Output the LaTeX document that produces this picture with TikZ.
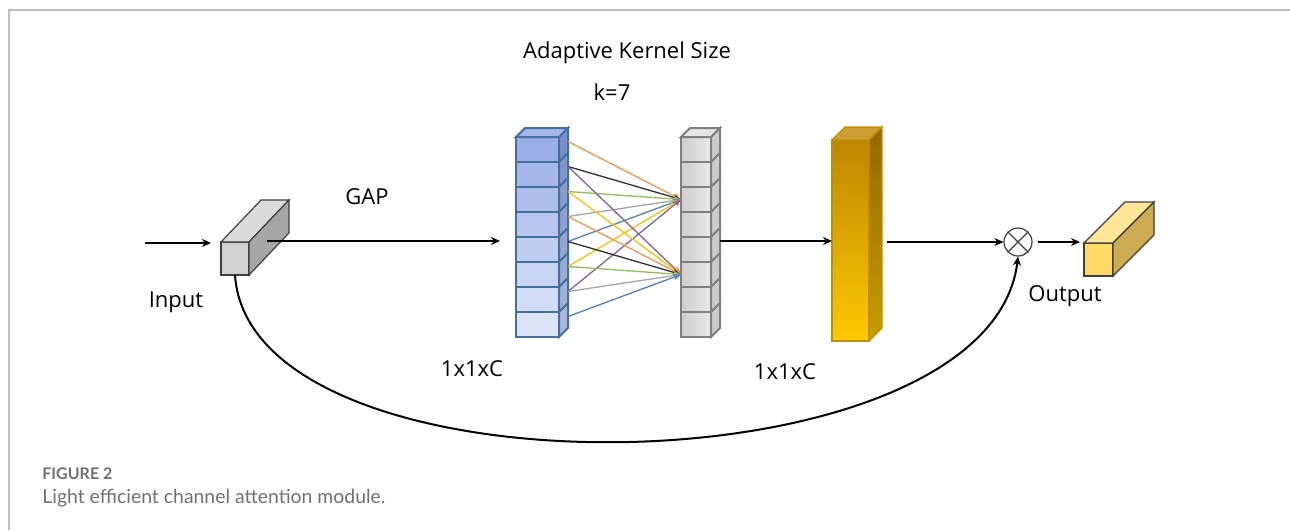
\documentclass[tikz,border=0pt]{standalone}
\usepackage{fontspec}
\setmainfont{Open Sans}
\newfontfamily\capfont{Lato}
\usetikzlibrary{arrows.meta,calc}

\definecolor{bTop}{HTML}{9AAEE8}
\definecolor{bBot}{HTML}{DDE4F8}
\definecolor{bSideTop}{HTML}{7A8FC6}
\definecolor{bSideBot}{HTML}{ABB6DA}
\definecolor{bEdge}{HTML}{41719C}
\definecolor{gEdge}{HTML}{7F7F7F}
\definecolor{cubeEdge}{HTML}{404040}
\definecolor{goldTop}{HTML}{BF8600}
\definecolor{goldBot}{HTML}{FFC800}
\definecolor{goldSideTop}{HTML}{946800}
\definecolor{goldSideBot}{HTML}{C89C00}
\definecolor{goldEdge}{HTML}{C09000}
\definecolor{cOrange}{HTML}{F79646}
\definecolor{cBlack}{HTML}{303030}
\definecolor{cGreen}{HTML}{9BBB59}
\definecolor{cGray}{HTML}{A5A5A5}
\definecolor{cBlue}{HTML}{4F81BD}
\definecolor{cYellow}{HTML}{FFC000}
\definecolor{cPurple}{HTML}{8064A2}
\definecolor{capGray}{HTML}{707070}
\definecolor{frameGray}{HTML}{BEBEBE}

\begin{document}
\begin{tikzpicture}[x=0.5pt,y=-0.5pt,
  lbl/.style={font=\fontsize{11pt}{13pt}\selectfont, inner sep=0pt},
  arr/.style={line width=1pt, -{Stealth[length=4.5pt,width=4pt]}},
  thin arr/.style={line width=0.65pt, -{Stealth[length=4pt,width=3.2pt]}},
  bcell/.style={draw=bEdge, line width=1pt, minimum width=21.5pt, minimum height=12.5pt, inner sep=0pt, outer sep=0pt},
  gcell/.style={draw=gEdge, line width=1pt, minimum width=15pt, minimum height=12.5pt, inner sep=0pt, outer sep=0pt, left color=gray!38, right color=gray!18},
  face/.style={draw=cubeEdge, line width=0.6pt, inner sep=0pt, outer sep=0pt}
]
\useasboundingbox (0,0) rectangle (1290,530);

% frame of the figure panel
\draw[frameGray, line width=0.6pt] (9,530) -- (9,10) -- (1290,10);

% ---------- input feature cube ----------
\node[face, fill=gray!35, minimum width=14pt, minimum height=16.5pt] (inp) at (235,258.5) {};
\draw[face, fill=gray!28] (inp.north west) -- ++(40,-42) -- ++(28,0) -- (inp.north east) -- cycle;
\draw[face, fill=gray!70] (inp.north east) -- ++(40,-42) -- ++(0,33) -- (inp.south east) -- cycle;

% ---------- pooled descriptor column ----------
\foreach \i in {1,...,8}{
  \pgfmathsetmacro\pct{100-(\i-1)*100/7}
  \node[bcell, fill=bTop!\pct!bBot] (b\i) at (537.5,{149.5+25*(\i-1)}) {};
}
\draw[draw=bEdge, line width=1pt, fill=bTop!90!white] (b1.north west) -- ++(9,-9) -- ++(43,0) -- (b1.north east) -- cycle;
\foreach \i in {1,...,8}{
  \pgfmathsetmacro\pct{100-(\i-1)*100/7}
  \draw[draw=bEdge, line width=1pt, fill=bSideTop!\pct!bSideBot] (b\i.north east) -- ++(9,-9) -- ++(0,25) -- (b\i.south east) -- cycle;
  \coordinate (s\i) at ($(b\i.east)+(9,-8)$);
}

% ---------- attention weight column ----------
\foreach \i in {1,...,8}{
  \node[gcell] (g\i) at (696,{149.5+25*(\i-1)}) {};
}
\draw[draw=gEdge, line width=1pt, fill=gray!20] (g1.north west) -- ++(9,-9) -- ++(30,0) -- (g1.north east) -- cycle;
\foreach \i in {1,...,8}{
  \draw[draw=gEdge, line width=1pt, fill=gray!40] (g\i.north east) -- ++(9,-9) -- ++(0,25) -- (g\i.south east) -- cycle;
}

% ---------- local cross-channel interaction (k = 7) ----------
\foreach \i/\c in {1/cOrange,2/cBlack,3/cGreen,4/cGray,5/cBlue,6/cYellow,7/cPurple}{
  \draw[thin arr, \c] (s\i) -- (g3.west);
}
\foreach \i/\c in {2/cPurple,3/cYellow,4/cOrange,5/cBlack,6/cGreen,7/cGray,8/cBlue}{
  \draw[thin arr, \c] (s\i) -- (g6.west);
}

% ---------- sigmoid weights bar ----------
\node[draw=goldEdge, line width=0.6pt, top color=goldTop, bottom color=goldBot, minimum width=18.5pt, minimum height=100.5pt, inner sep=0pt, outer sep=0pt] (att) at (850.5,240.5) {};
\draw[draw=goldEdge, line width=0.6pt, fill=goldTop!80!white] (att.north west) -- ++(13,-13) -- ++(37,0) -- (att.north east) -- cycle;
\shade[top color=goldSideTop, bottom color=goldSideBot, draw=goldEdge, line width=0.6pt] (att.north east) -- ++(13,-13) -- ++(0,201) -- (att.south east) -- cycle;

% ---------- multiplication ----------
\node[draw=cubeEdge, line width=0.6pt, circle, minimum size=14pt, inner sep=0pt] (mul) at (1018,242) {};
\draw[cubeEdge, line width=0.6pt] (mul.45) -- (mul.225) (mul.135) -- (mul.315);

% ---------- output feature cube ----------
\node[face, fill={rgb,255:red,255;green,217;blue,102}, minimum width=14.5pt, minimum height=16.5pt] (out) at (1098.5,259.5) {};
\draw[face, fill={rgb,255:red,255;green,230;blue,153}] (out.north west) -- ++(41,-41) -- ++(29,0) -- (out.north east) -- cycle;
\draw[face, fill={rgb,255:red,204;green,171;blue,83}] (out.north east) -- ++(41,-41) -- ++(0,33) -- (out.south east) -- cycle;

% ---------- connectors ----------
\coordinate (src) at (145,243);
\draw[arr, shorten >=5pt] (src) -- (src -| inp.west);
\coordinate (gapS) at ($(inp.north east)+(18,-1)$);
\draw[arr, shorten >=8pt] (gapS) -- (gapS -| b5.west);
\coordinate (gS) at ($(g5.north east)+(9,4)$);
\draw[arr] (gS) -- (gS -| att.west);
\coordinate (aS) at ($(att.east)+(18,1.5)$);
\draw[arr] (aS) -- (aS -| mul.west);
\draw[arr, shorten <=2.5pt, shorten >=2pt] (mul.east) -- (mul.east -| out.west);
\draw[arr] (inp.south) .. controls (250,505) and (990,495) .. (mul.south);

% ---------- labels ----------
\node[lbl] (title) at (627,53) {Adaptive Kernel Size};
\node[lbl] (kval) at (612,92) {k=7};
\node[lbl] (gap) at (367,197) {GAP};
\node[lbl] (inlbl) at (176,302) {Input};
\node[lbl] (dimA) at (472,369) {1x1xC};
\node[lbl] (dimB) at (785,372) {1x1xC};
\node[lbl] (outlbl) at (1065,296) {Output};

% ---------- caption ----------
\node[anchor=west, inner sep=0pt, text=capGray, font=\capfont\bfseries\fontsize{8pt}{9pt}\selectfont] (fig) at (42,474) {FIGURE 2};
\node[anchor=west, inner sep=0pt, text=capGray, font=\capfont\fontsize{9.7pt}{11pt}\selectfont] (cap) at (42,498) {Light efficient channel attention module.};
\end{tikzpicture}
\end{document}
